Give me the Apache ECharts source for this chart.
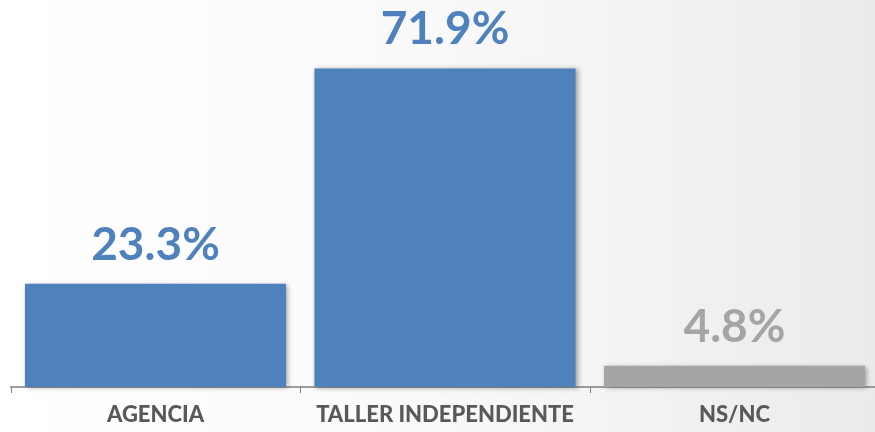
<!DOCTYPE html>
<html><head><meta charset="utf-8">
<script src="https://cdn.jsdelivr.net/npm/echarts@6/dist/echarts.min.js"></script>
<style>html,body{margin:0;padding:0;overflow:hidden;width:875px;height:432px;}#c{width:880px;height:432px;}</style>
</head><body><div id="c"></div>
<script>
const categories = ['AGENCIA', 'TALLER INDEPENDIENTE', 'NS/NC'];
const values = [23.3, 71.9, 4.8];
const barColors = ['#4F81BD', '#4F81BD', '#A5A5A5'];

const chart = echarts.init(document.getElementById('c'));
chart.setOption({
  backgroundColor: {
    type: 'linear', x: 0, y: 0, x2: 1, y2: 0,
    colorStops: [{offset: 0, color: '#ffffff'}, {offset: 0.45, color: '#fafafa'}, {offset: 1, color: '#ebebeb'}]
  },
  animation: false,
  grid: {left: 10.75, right: 0.75, top: 32.6, bottom: 45},
  xAxis: {
    type: 'category',
    data: categories,
    axisLine: {lineStyle: {color: '#7f7f7f', width: 1.5}},
    axisTick: {show: true, length: 6, lineStyle: {color: '#7f7f7f'}},
    axisLabel: {interval: 0, color: '#595959', fontFamily: 'Lato', fontWeight: 900, fontSize: 22, margin: 17}
  },
  yAxis: {type: 'value', min: 0, max: 80, show: false, splitLine: {show: false}},
  series: [{
    type: 'bar',
    barWidth: '90.2%',
    data: values.map((v, i) => ({value: v, itemStyle: {color: barColors[i]}, label: {color: barColors[i]}})),
    itemStyle: {shadowBlur: 5, shadowOffsetX: 2, shadowOffsetY: 1, shadowColor: 'rgba(0,0,0,0.35)'},
    label: {show: true, position: 'top', distance: 16, fontFamily: 'Lato', fontWeight: 'bold', fontSize: 46,
      formatter: p => p.value.toFixed(1) + '%'}
  }]
});
</script></body></html>
